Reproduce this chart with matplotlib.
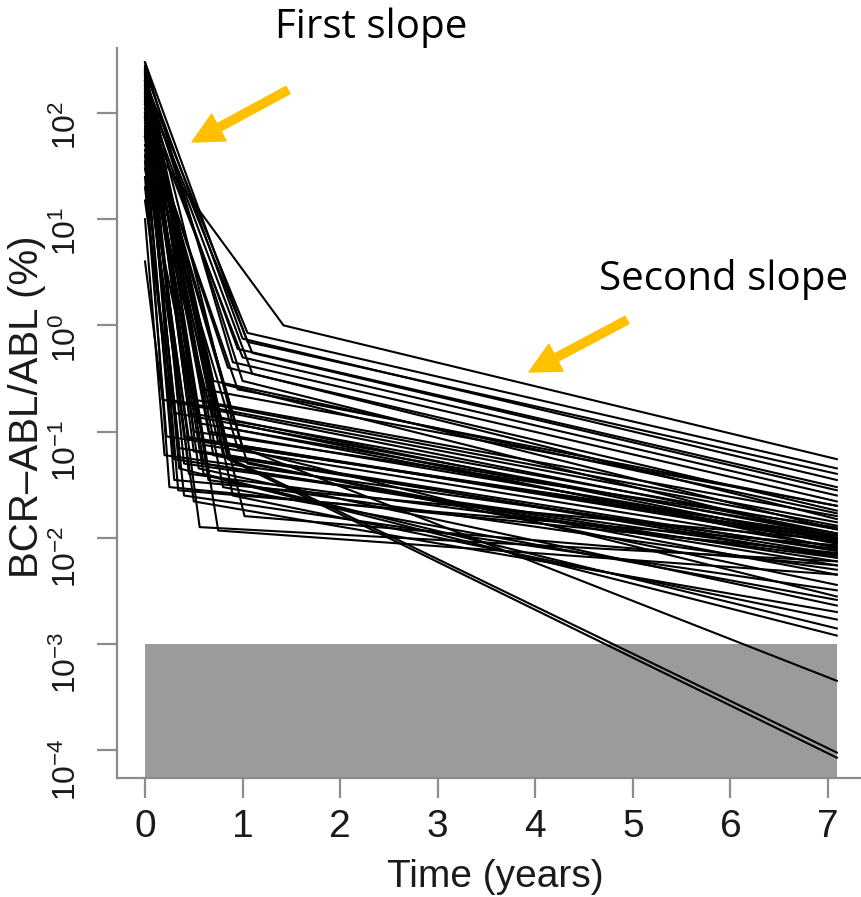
import numpy as np
import matplotlib.pyplot as plt
from matplotlib.patches import Rectangle

plt.rcParams['font.family'] = ['Liberation Sans', 'DejaVu Sans']
plt.rcParams['mathtext.fontset'] = 'custom'
plt.rcParams['mathtext.rm'] = 'Liberation Sans'
plt.rcParams['mathtext.it'] = 'Liberation Sans:italic'
plt.rcParams['mathtext.bf'] = 'Liberation Sans:bold'

# BCR-ABL/ABL (%) for each patient: at diagnosis, at the change of slope,
# and at the last follow-up; break_year is when the slope changes
start_pct = [60, 200, 250, 150, 120, 300, 180, 90, 220, 100,
             260, 140, 80, 200, 30, 160, 110, 50, 240, 70,
             190, 130, 40, 170, 95, 280, 20, 4, 60, 210,
             150, 90, 230, 120, 60, 180, 35, 270, 75, 140,
             45, 200, 100, 160, 250, 130, 110, 300, 170, 85,
             230, 15, 260, 65, 190, 10, 125, 240, 25, 155]
break_year = [1.42, 1.05, 1.0, 0.95, 1.0, 0.9, 1.1, 0.85, 1.0, 0.8,
              0.6, 0.5, 0.7, 0.45, 0.55, 0.65, 0.4, 0.75, 0.9, 0.35,
              0.5, 0.85, 0.3, 0.6, 1.05, 0.7, 0.25, 0.18, 0.95, 0.55,
              0.34, 0.56, 0.75, 1.02, 0.3, 0.45, 0.25, 0.65, 0.4, 0.8,
              0.5, 0.9, 0.6, 0.35, 0.8, 0.85, 1.0, 1.05, 1.1, 0.95,
              0.7, 0.3, 0.5, 0.45, 0.8, 0.2, 0.6, 0.4, 0.22, 0.7]
break_pct = [1.0, 0.85, 0.75, 0.6, 0.5, 0.45, 0.35, 0.4, 0.3, 0.28,
             0.25, 0.2, 0.18, 0.15, 0.12, 0.1, 0.09, 0.08, 0.12, 0.07,
             0.065, 0.06, 0.055, 0.05, 0.05, 0.06, 0.2, 0.2, 0.07, 0.045,
             0.028, 0.0126, 0.0117, 0.016, 0.035, 0.04, 0.03, 0.035, 0.025, 0.03,
             0.022, 0.025, 0.04, 0.045, 0.06, 0.055, 0.07, 0.7, 0.55, 0.25,
             0.3, 0.15, 0.1, 0.085, 0.11, 0.06, 0.075, 0.05, 0.09, 0.14]
end_pct = [0.055, 0.045, 0.035, 0.030, 0.025, 0.022, 0.018, 0.015, 0.012, 0.010,
           0.020, 0.016, 0.014, 0.012, 0.011, 0.010, 0.0095, 0.009, 0.008, 0.0075,
           0.007, 0.0065, 0.006, 0.0055, 0.0045, 0.0036, 0.013, 0.011, 0.0028, 0.0023,
           0.0085, 0.006, 0.0045, 0.0055, 0.0095, 0.0065, 0.0072, 0.005, 0.0032, 0.0026,
           0.0020, 0.0017, 0.0014, 0.0012, 0.000095, 0.000085, 0.00045, 0.040, 0.028, 0.020,
           0.017, 0.0105, 0.0125, 0.0098, 0.0088, 0.0078, 0.0082, 0.0068, 0.0105, 0.0092]
end_year = 7.09

detect_limit = 1e-3   # shaded band below this level
x_ticks = [0, 1, 2, 3, 4, 5, 6, 7]
y_ticks = [1e-4, 1e-3, 1e-2, 1e-1, 1e0, 1e1, 1e2]
y_tick_labels = ['10$^{-4}$', '10$^{-3}$', '10$^{-2}$', '10$^{-1}$',
                 '10$^{0}$', '10$^{1}$', '10$^{2}$']

W, H = 861, 897
fig = plt.figure(figsize=(W / 100, H / 100), dpi=100)
ax = fig.add_axes([117 / W, 119 / H, 744 / W, 730 / H])

ax.set_yscale('log')
ax.set_xlim(-0.287, 7.338)
ax.set_ylim(10 ** -4.262, 10 ** 2.612)

ax.add_patch(Rectangle((0, 1e-6), end_year, detect_limit - 1e-6,
                       facecolor='#9b9b9b', edgecolor='none', zorder=1))

for i in range(len(start_pct)):
    ax.plot([0, break_year[i], end_year],
            [start_pct[i], break_pct[i], end_pct[i]],
            color='black', lw=1.5, zorder=2)

axis_grey = '#8c8c8c'
text_col = '#1a1a1a'
for side in ['top', 'right']:
    ax.spines[side].set_visible(False)
for side in ['left', 'bottom']:
    ax.spines[side].set_color(axis_grey)
    ax.spines[side].set_linewidth(1.6)

ax.set_xticks(x_ticks)
ax.set_yticks(y_ticks, labels=y_tick_labels)
ax.yaxis.set_minor_locator(plt.NullLocator())
ax.tick_params(axis='both', direction='out', length=14.4, width=1.6,
               color=axis_grey, labelcolor=text_col)
ax.tick_params(axis='x', labelsize=28, pad=8)
ax.tick_params(axis='y', labelsize=23, pad=10, labelrotation=90)

fig.text(495 / W, 1 - 887 / H, 'Time (years)', ha='center', va='baseline',
         fontsize=28, color=text_col)
fig.text(27 / W, 1 - 407 / H, 'BCR\u2013ABL/ABL (%)', rotation=90,
         ha='center', va='center', fontsize=29, color=text_col)

# slope annotations
note_font = ['Open Sans', 'DejaVu Sans']
fig.text(371 / W, 1 - 38 / H, 'First slope', ha='center', va='baseline',
         fontsize=29, family=note_font)
fig.text(724 / W, 1 - 290 / H, 'Second slope', ha='center', va='baseline',
         fontsize=29, family=note_font)

arrow_style = dict(arrowstyle='simple,head_length=1.1,head_width=1.1,tail_width=0.3',
                   color='#FFC000', shrinkA=0, shrinkB=0, mutation_scale=20)
ax.annotate('', xy=(192, H - 142), xytext=(288, H - 90),
            xycoords='figure pixels', textcoords='figure pixels',
            arrowprops=arrow_style, annotation_clip=False)
ax.annotate('', xy=(529, H - 372), xytext=(627, H - 320),
            xycoords='figure pixels', textcoords='figure pixels',
            arrowprops=arrow_style, annotation_clip=False)

fig.savefig('out.png', dpi=100)
